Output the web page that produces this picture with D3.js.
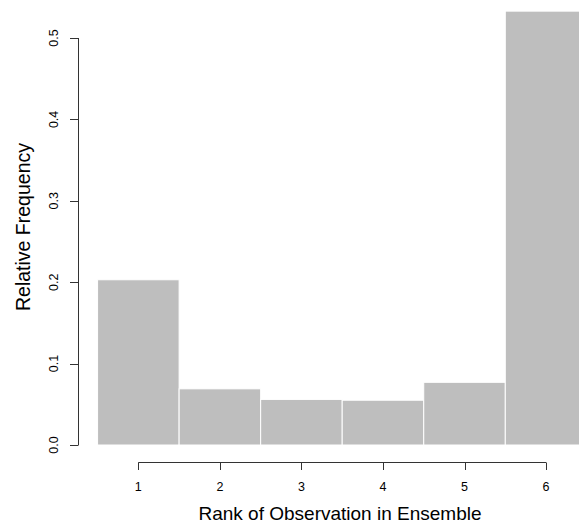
<!DOCTYPE html>
<html>
<head>
<meta charset="utf-8">
<script src="https://cdn.jsdelivr.net/npm/d3@7"></script>
<style>
  html, body { margin: 0; padding: 0; background: #fff; }
  text { font-family: "Liberation Sans", Arial, Helvetica, sans-serif; fill: #000; }
</style>
</head>
<body>
<div id="chart"></div>
<script>
// rank histogram data
const ranks = [1, 2, 3, 4, 5, 6];
const relFreq = [0.203, 0.069, 0.056, 0.055, 0.077, 0.533];
const yTicks = [0, 0.1, 0.2, 0.3, 0.4, 0.5];
const yTickLabels = ['0.0', '0.1', '0.2', '0.3', '0.4', '0.5'];

const width = 579, height = 524;

const svg = d3.select('#chart')
  .append('svg')
  .attr('width', width)
  .attr('height', height);

// plot region (R style, 4% padding around [0.5, 6.5])
const x = d3.scaleLinear().domain([0.26, 6.74]).range([78, 606.4]);
const y = d3.scaleLinear().domain([0, 0.5]).range([445, 38]);

const axisColor = '#333';

// bars
svg.selectAll('.bar')
  .data(relFreq)
  .enter().append('rect')
  .attr('class', 'bar')
  .attr('x', (d, i) => x(ranks[i] - 0.5))
  .attr('width', (d, i) => x(ranks[i] + 0.5) - x(ranks[i] - 0.5))
  .attr('y', d => y(d))
  .attr('height', d => y(0) - y(d))
  .style('fill', '#bebebe')
  .style('stroke', '#fff')
  .style('stroke-width', 1);

// y axis
const yAxis = svg.append('g');
yAxis.append('line')
  .attr('x1', 78.5).attr('x2', 78.5)
  .attr('y1', y(yTicks[0])).attr('y2', y(yTicks[yTicks.length - 1]))
  .style('stroke', axisColor);
yAxis.selectAll('.ytick')
  .data(yTicks)
  .enter().append('line')
  .attr('x1', 70).attr('x2', 78.5)
  .attr('y1', d => Math.round(y(d)) + 0.5)
  .attr('y2', d => Math.round(y(d)) + 0.5)
  .style('stroke', axisColor);
yAxis.selectAll('.ylab')
  .data(yTicks)
  .enter().append('text')
  .attr('transform', d => `translate(58,${y(d)}) rotate(-90)`)
  .attr('text-anchor', 'middle')
  .style('font-size', '12.5px')
  .text((d, i) => yTickLabels[i]);

// x axis
const xAxis = svg.append('g');
xAxis.append('line')
  .attr('x1', x(ranks[0])).attr('x2', x(ranks[ranks.length - 1]))
  .attr('y1', 462.5).attr('y2', 462.5)
  .style('stroke', axisColor);
xAxis.selectAll('.xtick')
  .data(ranks)
  .enter().append('line')
  .attr('x1', d => Math.round(x(d)) + 0.5)
  .attr('x2', d => Math.round(x(d)) + 0.5)
  .attr('y1', 462.5).attr('y2', 470)
  .style('stroke', axisColor);
xAxis.selectAll('.xlab')
  .data(ranks)
  .enter().append('text')
  .attr('x', d => x(d))
  .attr('y', 491)
  .attr('text-anchor', 'middle')
  .style('font-size', '12.5px')
  .text(d => d);

// axis titles
svg.append('text')
  .attr('x', 340)
  .attr('y', 520)
  .attr('text-anchor', 'middle')
  .style('font-size', '19px')
  .text('Rank of Observation in Ensemble');

svg.append('text')
  .attr('transform', 'translate(30,227) rotate(-90)')
  .attr('text-anchor', 'middle')
  .style('font-size', '19.5px')
  .text('Relative Frequency');
</script>
</body>
</html>
